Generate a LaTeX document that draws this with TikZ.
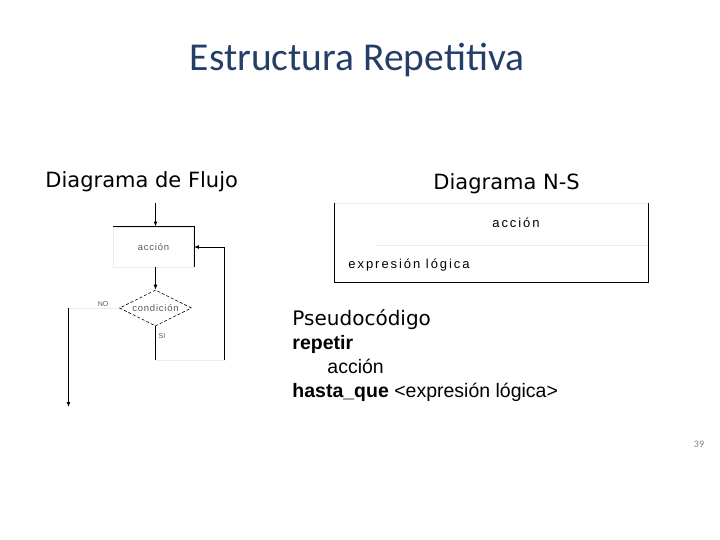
\documentclass[tikz,border=0pt]{standalone}
\usepackage{fontspec}
\setmainfont{DejaVu Sans}
\newfontfamily\titlefont{Carlito}
\newfontfamily\arialfont{Liberation Sans}
\newfontfamily\spacedfont[LetterSpace=15]{Liberation Sans}
\newfontfamily\smallfont[LetterSpace=8]{Liberation Sans}
\usetikzlibrary{shapes.geometric, arrows.meta}
\definecolor{titleblue}{RGB}{36,62,104}
\definecolor{faint}{RGB}{236,236,236}

\begin{document}
\begin{tikzpicture}[x=1pt, y=-1pt,
  every node/.style={inner sep=0pt},
  line width=0.9pt,
  arr/.style={-{Latex[length=5pt,width=4pt]}},
  small/.style={font=\smallfont\fontsize{9.5}{10}\selectfont, text=gray!70!black},
  head/.style={font=\fontsize{21}{24}\selectfont, anchor=base west},
  code/.style={font=\arialfont\fontsize{19.5}{24}\selectfont, anchor=base west}
]
  \useasboundingbox (0,0) rectangle (720,540);

  % titles
  \node[font=\titlefont\fontsize{39.5}{44}\selectfont, text=titleblue, anchor=base] (title) at (357,71) {Estructura Repetitiva};
  \node[head] (flujo) at (45,188) {Diagrama de Flujo};
  \node[head] (ns) at (433,190) {Diagrama N-S};

  % diagrama de flujo
  \node[rectangle, draw=faint, minimum width=80pt, minimum height=40pt, small] (accion) at (153.5,247) {acción};
  \draw (accion.north west) -- (accion.north east) -- (accion.south east);
  \node[diamond, draw, densely dashed, line width=0.6pt, minimum width=72pt, minimum height=36pt, aspect=2, small] (cond) at (155.5,308) {condición};
  \node[small, font=\arialfont\fontsize{7}{8}\selectfont] (no) at (103,304) {NO};
  \node[small, font=\arialfont\fontsize{7}{8}\selectfont] (si) at (162,336) {SI};

  \coordinate (in) at (155.5,203);
  \coordinate (sb) at (155.5,360);
  \coordinate (lb) at (224.5,360);
  \coordinate (nb) at (68.5,308);
  \coordinate (out) at (68.5,407);

  \draw[arr] (in) -- (accion.north -| in);
  \draw[arr] (accion.south -| in) -- (cond.north);
  \draw (cond.south) -- (sb);
  \draw[faint] (sb) -- (lb);
  \draw[arr] (lb) |- (accion.east);
  \draw[faint] (cond.west) -- (nb);
  \draw[arr] (nb) -- (out);

  % diagrama N-S
  \draw[faint] (334.5,203) -- (648.5,203);
  \draw (334.5,203) -- (334.5,282.5) -- (648.5,282.5) -- (648.5,203);
  \draw[faint] (377,245) -- (648,245);
  \node[font=\spacedfont\fontsize{13}{15}\selectfont] (nsaccion) at (516,223) {acción};
  \node[font=\spacedfont\fontsize{13}{15}\selectfont, anchor=west] (nsexpr) at (348,265) {expresión lógica};

  % pseudocodigo
  \node[font=\fontsize{20}{24}\selectfont, anchor=base west] (pseudo) at (292,325) {Pseudocódigo};
  \node[code] (repetir) at (292,349) {\bfseries repetir};
  \node[code] (paccion) at (327,373) {acción};
  \node[code] (hasta) at (292,397) {\textbf{hasta\_que} <expresión lógica>};

  \node[font=\titlefont\fontsize{10}{12}\selectfont, text=gray] (pag) at (699,444) {39};
\end{tikzpicture}
\end{document}
